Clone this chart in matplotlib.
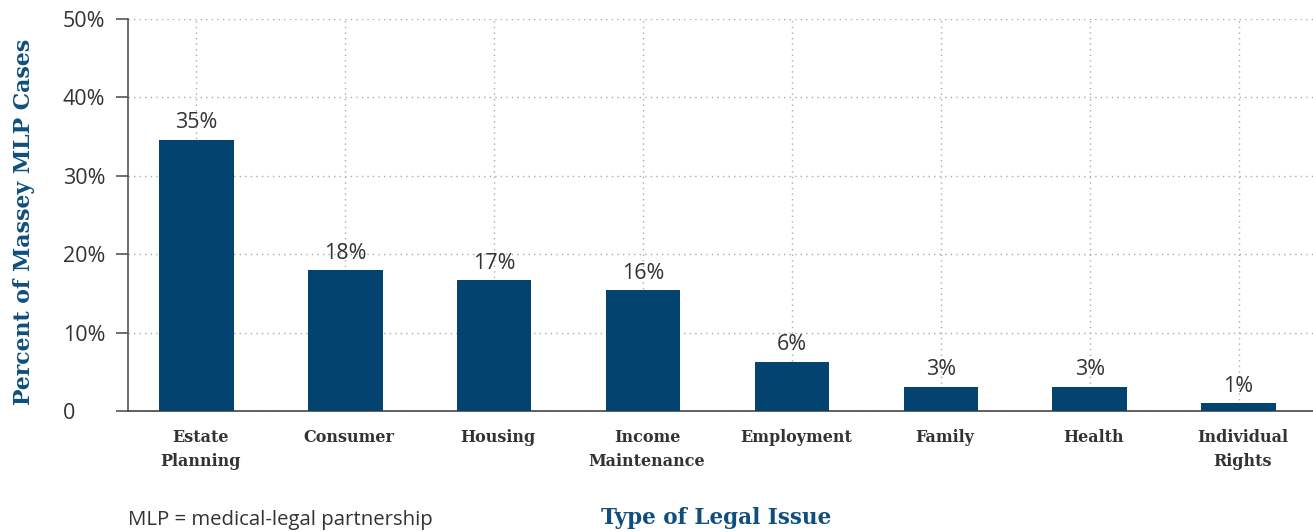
import numpy as np
import matplotlib
matplotlib.use('Agg')
import matplotlib.pyplot as plt
from matplotlib.transforms import ScaledTranslation

# data
categories = ['Estate\nPlanning', 'Consumer', 'Housing', 'Income\nMaintenance',
              'Employment', 'Family', 'Health', 'Individual\nRights']
values = [34.6, 18.0, 16.7, 15.4, 6.3, 3.1, 3.1, 1.0]
bar_labels = ['35%', '18%', '17%', '16%', '6%', '3%', '3%', '1%']
yticks = [0, 10, 20, 30, 40, 50]
ytick_labels = ['0', '10%', '20%', '30%', '40%', '50%']

blue = '#02446f'
title_blue = '#0f4f7f'
txt = '#333333'
sans = ['Open Sans', 'DejaVu Sans']
serif = ['DejaVu Serif']

fig = plt.figure(figsize=(13.13, 5.32), dpi=100)
ax = fig.add_axes([128 / 1313, 121 / 532, 1 - 128 / 1313, 392 / 532])

x = np.arange(len(categories))
ax.bar(x, values, width=0.5, color=blue, zorder=3)

for xi, v, lab in zip(x, values, bar_labels):
    ax.text(xi, v + 0.8, lab, ha='center', va='bottom', fontsize=15.5,
            color=txt, family=sans, zorder=4)

ax.set_xlim(-0.46, 7.5)
ax.set_ylim(0, 50)
ax.set_yticks(yticks)
ax.set_yticklabels(ytick_labels, fontsize=15.5, color=txt, family=sans)
for t in ax.get_yticklabels():
    t.set_horizontalalignment('left')
ax.tick_params(axis='y', length=9, width=1.2, color='#555555', pad=38)

ax.set_xticks(x)
ax.set_xticklabels(categories, fontsize=11.5, color=txt, family=serif,
                   fontweight='bold', linespacing=1.55)
ax.tick_params(axis='x', length=0, pad=13)
# labels in the original sit a few pixels right of the bar centres
shift = ScaledTranslation(4 / 100, 0, fig.dpi_scale_trans)
for t in ax.get_xticklabels():
    t.set_transform(t.get_transform() + shift)

ax.grid(True, linestyle=(0, (1, 3)), color='#aaaaaa', linewidth=1, zorder=0)

for s in ['top', 'right']:
    ax.spines[s].set_visible(False)
ax.spines['left'].set_color('#555555')
ax.spines['left'].set_linewidth(1.2)
ax.spines['bottom'].set_color('#444444')
ax.spines['bottom'].set_linewidth(1.2)

ax.set_ylabel('Percent of Massey MLP Cases', fontsize=15.8, fontweight='bold',
              color=title_blue, family=serif, labelpad=0)
ax.yaxis.set_label_coords(-93 / 1185, 0.483)

fig.text(716 / 1313, 1 - 518 / 532, 'Type of Legal Issue', ha='center',
         va='center', fontsize=15.5, fontweight='bold', color=title_blue,
         family=serif)
fig.text(128 / 1313, 1 - 520 / 532, 'MLP = medical-legal partnership',
         ha='left', va='center', fontsize=14.7, color=txt, family=sans)

fig.savefig('out.png', dpi=100)
